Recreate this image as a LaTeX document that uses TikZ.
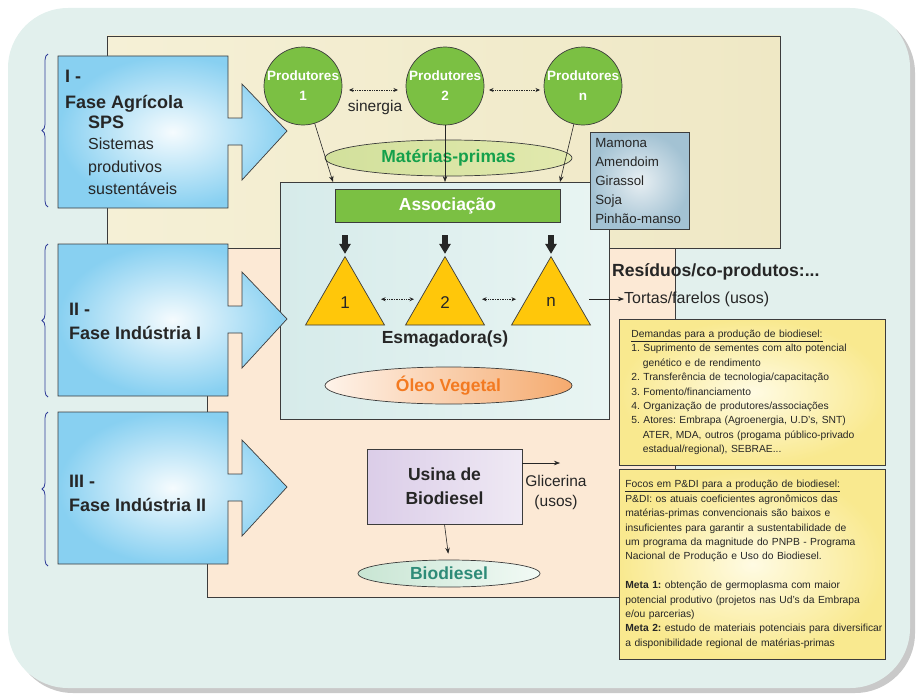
\documentclass[tikz,border=0pt]{standalone}
\usepackage{fontspec}
\setmainfont{Liberation Sans}
\usetikzlibrary{shapes.geometric,arrows.meta,decorations.pathreplacing}

\definecolor{bgteal}{HTML}{E2F0ED}
\definecolor{shadowgray}{HTML}{C9C9C9}
\definecolor{linegray}{HTML}{3C3C3C}
\definecolor{textdark}{HTML}{262626}
\definecolor{leafgreen}{HTML}{7BC043}
\definecolor{goldtri}{HTML}{FFC70A}
\definecolor{peach}{HTML}{FCE9D5}
\definecolor{skyblue}{HTML}{88D0F1}
\definecolor{bracecol}{HTML}{2F3C98}
\definecolor{mpgreen}{HTML}{14A04B}
\definecolor{oleoorange}{HTML}{F37A21}
\definecolor{biodteal}{HTML}{2E8B78}
\definecolor{creamA}{HTML}{F5F0D6}
\definecolor{creamB}{HTML}{FBF9EC}
\definecolor{creamC}{HTML}{EFE8C5}
\definecolor{tealA}{HTML}{D6EBEA}
\definecolor{tealB}{HTML}{E9F5F3}
\definecolor{cropIn}{HTML}{E8EFF3}
\definecolor{cropOut}{HTML}{A3C2D3}
\definecolor{noteIn}{HTML}{FFFBE3}
\definecolor{noteOut}{HTML}{F9E98F}
\definecolor{lilacA}{HTML}{DBCDE8}
\definecolor{lilacB}{HTML}{EFE9F4}
\definecolor{mpA}{HTML}{D2E09C}
\definecolor{mpB}{HTML}{F1F4DA}
\definecolor{mpC}{HTML}{E2E9AE}
\definecolor{oleoA}{HTML}{FEF3EA}
\definecolor{oleoB}{HTML}{F5AA6E}
\definecolor{biodA}{HTML}{C8E5D3}
\definecolor{biodB}{HTML}{F2FAF5}

\begin{document}
\begin{tikzpicture}[x=1pt, y=-1pt,
    area/.style={draw=linegray, line width=0.7pt},
    phase/.style={draw=linegray, line width=0.7pt, inner color=white!92!skyblue, outer color=skyblue},
    brace/.style={decorate, decoration={brace, amplitude=6pt}, draw=bracecol, line width=0.8pt},
    plain/.style={inner sep=0pt, text=textdark, font=\fontsize{16}{22.5}\selectfont},
    boldtxt/.style={inner sep=0pt, text=textdark, font=\fontsize{18}{24}\selectfont\bfseries},
    prod/.style={circle, draw=linegray, line width=0.7pt, fill=leafgreen, minimum size=78pt, inner sep=0pt,
        text=white, align=center, font=\fontsize{13.5}{20}\selectfont\bfseries},
    press/.style={regular polygon, regular polygon sides=3, minimum size=91.2pt, inner sep=0pt,
        draw=linegray, line width=0.7pt, fill=goldtri, text=textdark, font=\fontsize{17}{20}\selectfont},
    oval/.style={ellipse, draw=linegray, line width=0.7pt, inner sep=0pt, font=\fontsize{17.5}{20}\selectfont\bfseries},
    note/.style={draw=linegray, line width=0.7pt, inner color=noteIn, outer color=noteOut,
        anchor=north west, align=left, inner ysep=0pt, text=textdark,
        font=\fontsize{10.3}{14.4}\selectfont\frenchspacing},
    arr/.style={-{Stealth[length=6pt, width=4.5pt]}, line width=0.6pt, draw=textdark},
    syn/.style={{Stealth[length=4.5pt, width=4pt]}-{Stealth[length=4.5pt, width=4pt]}, densely dotted, line width=0.7pt, draw=textdark},
    feed/.style={-{Triangle[length=10pt, width=11pt]}, line width=5.5pt, draw=textdark, shorten >=2pt}]

    \useasboundingbox (0,0) rectangle (917,693);

    % Background
    \fill[shadowgray, rounded corners=60pt] (13,13) rectangle (915,693);
    \fill[bgteal, rounded corners=60pt] (8,8) rectangle (910,688);

    % Phase areas
    \draw[area, left color=creamA, middle color=creamB, right color=creamC] (107,36) rectangle (780,248);
    \draw[area, fill=peach] (207,248) rectangle (675,597);
    \draw[area, left color=tealA, right color=tealB] (280,182) rectangle (609,419);

    % Phase arrows
    \foreach \t in {56,244,412}
        \draw[phase] (58,\t) -- ++(170,0) -- ++(0,62) -- ++(14,0) -- ++(0,-34) -- ++(45,47)
            -- ++(-45,49) -- ++(0,-35) -- ++(-14,0) -- ++(0,63) -- ++(-170,0) -- cycle;
    \foreach \a/\b in {54/207, 244/397, 412/566}
        \draw[brace] (48,\b) -- (48,\a);

    % Phase labels
    \node[boldtxt, anchor=west, align=left, font=\fontsize{18}{26}\selectfont\bfseries] (faseI) at (65,91) {I -\\Fase Agrícola};
    \node[boldtxt, anchor=west] (sps) at (88,122) {SPS};
    \node[plain, anchor=west, align=left] (sps text) at (88,166.5) {Sistemas\\produtivos\\sustentáveis};
    \node[boldtxt, anchor=west, align=left] (faseII) at (69,321) {II -\\Fase Indústria I};
    \node[boldtxt, anchor=west, align=left] (faseIII) at (69,493) {III -\\Fase Indústria II};

    % Producers
    \node[prod] (p1) at (303,86) {Produtores\\1};
    \node[prod] (p2) at (445,86) {Produtores\\2};
    \node[prod] (pn) at (583,86) {Produtores\\n};
    \draw[syn, shorten <=46pt, shorten >=47pt] ([yshift=-4pt]p1.center) -- ([yshift=-4pt]p2.center);
    \draw[syn, shorten <=44pt, shorten >=43pt] ([yshift=-4pt]p2.center) -- ([yshift=-4pt]pn.center);
    \node[plain, font=\fontsize{15.5}{18}\selectfont] (sinergia) at (375,107) {sinergia};

    % Raw materials and association
    \node[oval, minimum width=247pt, minimum height=36pt, left color=mpA, middle color=mpB,
        right color=mpC, text=mpgreen] (mp) at (448.5,158) {Matérias-primas};
    \coordinate (in1) at (333,182);
    \coordinate (in2) at (445,182);
    \coordinate (in3) at (560,182);
    \draw[arr] (p1) -- (in1);
    \draw[arr] (p2) -- (in2);
    \draw[arr] (pn) -- (in3);
    \node[draw=linegray, line width=0.7pt, fill=leafgreen, minimum width=225pt, minimum height=33pt, inner sep=0pt,
        text=white, font=\fontsize{17.5}{20}\selectfont\bfseries] (assoc) at (447.5,205.5) {Associação};
    \node[draw=linegray, line width=0.7pt, inner color=cropIn, outer color=cropOut,
        anchor=north west, text width=89pt, inner xsep=5pt, inner ysep=0pt, minimum height=97pt, align=left,
        text=textdark, font=\fontsize{13.3}{19}\selectfont] (crops) at (590,132)
        {Mamona\\Amendoim\\Girassol\\Soja\\Pinhão-manso};

    % Crushers
    \node[press] (t1) at (345,302.2) {1};
    \node[press] (t2) at (445,302.2) {2};
    \node[press] (tn) at (551,302.2) {n};
    \foreach \n/\x in {t1/345, t2/445, tn/551} {
        \coordinate (d\n) at (\x,235);
        \draw[feed] (d\n) -- (\n.corner 1);
    }
    \draw[syn, shorten <=36pt, shorten >=31pt] ([yshift=3pt]t1.center) -- ([yshift=3pt]t2.center);
    \draw[syn, shorten <=37pt, shorten >=35pt] ([yshift=3pt]t2.center) -- ([yshift=3pt]tn.center);
    \node[boldtxt, font=\fontsize{17.5}{20}\selectfont\bfseries] (esm) at (445,339) {Esmagadora(s)};
    \node[oval, minimum width=247pt, minimum height=37pt, left color=oleoA, right color=oleoB,
        text=oleoorange] (oleo) at (448.5,385.5) {Óleo Vegetal};

    % Residues
    \node[boldtxt, anchor=west, font=\fontsize{17.6}{20}\selectfont\bfseries] (res) at (612,272) {Resíduos/co-produtos:...};
    \coordinate (r0) at (589,299);
    \node[plain, anchor=west] (tortas) at (624,299) {Tortas/farelos (usos)};
    \draw[arr] (r0) -- (tortas.west);

    % Notes
    \node[note, text width=242pt, inner xsep=12pt, minimum height=146pt] (demandas) at (619,319)
        {\underline{Demandas para a produção de biodiesel:}\\
         1. Suprimento de sementes com alto potencial\\
         \hspace*{11.5pt}genético e de rendimento\\
         2. Transferência de tecnologia/capacitação\\
         3. Fomento/financiamento\\
         4. Organização de produtores/associações\\
         5. Atores: Embrapa (Agroenergia, U.D’s, SNT)\\
         \hspace*{11.5pt}ATER, MDA, outros (progama público-privado\\
         \hspace*{11.5pt}estadual/regional), SEBRAE...};
    \node[note, text width=254pt, inner xsep=6pt, minimum height=190pt] (focos) at (619,469)
        {\underline{Focos em P\&DI para a produção de biodiesel:}\\
         P\&DI: os atuais coeficientes agronômicos das\\
         matérias-primas convencionais são baixos e\\
         insuficientes para garantir a sustentabilidade de\\
         um programa da magnitude do PNPB - Programa\\
         Nacional de Produção e Uso do Biodiesel.\\[14.4pt]
         \textbf{Meta 1:} obtenção de germoplasma com maior\\
         potencial produtivo (projetos nas Ud’s da Embrapa\\
         e/ou parcerias)\\
         \mbox{\textbf{Meta 2:} estudo de materiais potenciais para diversificar}\\
         a disponibilidade regional de matérias-primas};

    % Biodiesel plant
    \node[draw=linegray, line width=0.7pt, left color=lilacA, right color=lilacB,
        minimum width=155pt, minimum height=75pt, inner sep=0pt, align=center,
        text=textdark, font=\fontsize{17.5}{24}\selectfont\bfseries] (usina) at (444.5,486.5) {Usina de\\Biodiesel};
    \coordinate (g0) at (522,463);
    \coordinate (g1) at (560,463);
    \draw[arr] (g0) -- (g1);
    \node[plain, align=center, font=\fontsize{15.5}{20}\selectfont] (glic) at (556,492) {Glicerina\\(usos)};
    \node[oval, minimum width=182pt, minimum height=27pt, left color=biodA, right color=biodB,
        text=biodteal] (biod) at (449,573.5) {Biodiesel};
    \draw[arr, shorten >=6pt] (usina.south) -- (biod.north);
\end{tikzpicture}
\end{document}
